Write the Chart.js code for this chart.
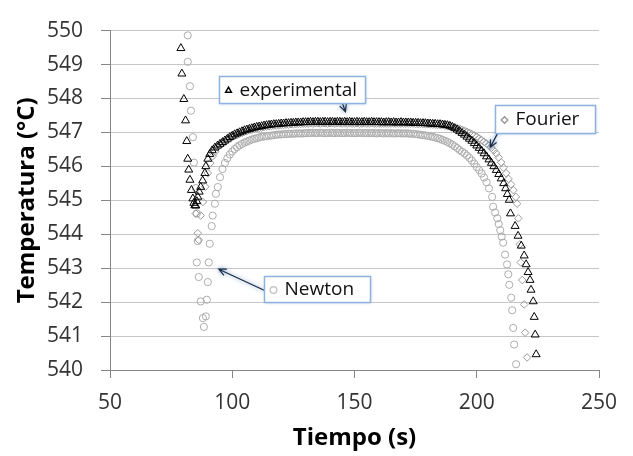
<!DOCTYPE html>
<html>
<head>
<meta charset="utf-8">
<script src="https://cdn.jsdelivr.net/npm/chart.js@4"></script>
<style>
  body { margin: 0; background: #fff; }
  #wrap { width: 633px; height: 456px; }
</style>
</head>
<body>
<div id="wrap"><canvas id="temp"></canvas></div>
<script>
// values
const xTickValues = [50, 100, 150, 200, 250];
const yTickValues = [540, 541, 542, 543, 544, 545, 546, 547, 548, 549, 550];

const expTime = [79.0, 79.4, 80.2, 80.9, 81.4, 81.8, 82.2, 82.7, 83.3, 83.9, 84.3, 84.7, 85.1, 85.5, 85.9, 86.5, 87.1, 87.9, 88.8, 89.2, 90.0, 90.8, 91.8, 92.9,
  94, 95, 96, 97, 98, 99, 100, 101, 102, 103, 104, 105, 106, 107, 108, 109, 110, 111, 112, 113, 114, 115, 116, 117, 118, 119, 120, 121, 122, 123, 124, 125, 126, 127, 128, 129, 130,
  131, 132, 133, 134, 135, 136, 137, 138, 139, 140, 141, 142, 143, 144, 145, 146, 147, 148, 149, 150, 151, 152, 153, 154, 155, 156, 157, 158, 159, 160, 161, 162, 163, 164, 165, 166, 167, 168, 169, 170,
  171, 172, 173, 174, 175, 176, 177, 178, 179, 180, 181, 182, 183, 184, 185, 186, 187, 188, 189, 190, 191, 192, 193, 194, 195, 196, 197, 198, 199, 200, 201, 202, 203, 204, 205, 206, 207, 208, 209, 210, 211,
  211.8, 212.5, 213.3, 213.8, 215.7, 216.9, 218.2, 219.4, 220.2, 221.0, 221.8, 222.2, 223.1, 223.5, 223.9, 224.3];
const expTemp = [549.48, 548.73, 547.98, 547.35, 546.74, 546.22, 545.90, 545.60, 545.30, 545.05, 544.92, 544.85, 544.84, 544.97, 545.10, 545.25, 545.39, 545.58, 545.80, 546.00, 546.22, 546.36, 546.47, 546.55,
  546.61, 546.66, 546.71, 546.76, 546.81, 546.86, 546.90, 546.94, 546.97, 547.00, 547.03, 547.06, 547.08, 547.10, 547.12, 547.14, 547.16, 547.17, 547.18, 547.20, 547.21, 547.22, 547.23, 547.24, 547.24, 547.25, 547.26, 547.26, 547.27, 547.27, 547.28, 547.28, 547.29, 547.29, 547.29, 547.30, 547.30,
  547.30, 547.31, 547.30, 547.31, 547.31, 547.30, 547.31, 547.31, 547.30, 547.31, 547.31, 547.30, 547.31, 547.31, 547.30, 547.31, 547.30, 547.31, 547.30, 547.30, 547.31, 547.30, 547.30, 547.31, 547.30, 547.30, 547.31, 547.30, 547.30, 547.30, 547.30, 547.29, 547.30, 547.30, 547.29, 547.30, 547.29, 547.29, 547.30, 547.29,
  547.29, 547.29, 547.29, 547.28, 547.28, 547.28, 547.27, 547.27, 547.27, 547.26, 547.26, 547.25, 547.25, 547.24, 547.24, 547.23, 547.22, 547.21, 547.19, 547.16, 547.12, 547.08, 547.03, 546.98, 546.93, 546.87, 546.81, 546.75, 546.68, 546.61, 546.54, 546.46, 546.38, 546.29, 546.20, 546.10, 546.00, 545.89, 545.77, 545.64, 545.50,
  545.35, 545.18, 545.01, 544.61, 544.24, 543.95, 543.66, 543.37, 543.11, 542.88, 542.65, 542.36, 542.02, 541.56, 541.04, 540.46];

const newTime = [81.8, 81.8, 82.7, 83.1, 83.9, 84.3, 85.1, 85.5, 85.9, 85.5, 86.3, 87.1, 88.0, 88.4, 89.2, 89.6, 90.0, 90.4, 90.8, 91.6, 92.0, 92.9, 93.3, 94.1,
  95, 96, 97, 98, 99, 100, 101, 102, 103, 104, 105, 106, 107, 108, 109, 110, 111, 112, 113, 114, 115, 116, 117, 118, 119, 120, 121, 122, 123, 124, 125, 126, 127, 128, 129, 130,
  131, 132, 133, 134, 135, 136, 137, 138, 139, 140, 141, 142, 143, 144, 145, 146, 147, 148, 149, 150, 151, 152, 153, 154, 155, 156, 157, 158, 159, 160, 161, 162, 163, 164, 165, 166, 167, 168, 169, 170,
  171, 172, 173, 174, 175, 176, 177, 178, 179, 180, 181, 182, 183, 184, 185, 186, 187, 188, 189, 190, 191, 192, 193, 194, 195, 196, 197, 198, 199, 200, 201, 202, 203, 204, 205,
  206.3, 206.7, 207.5, 208.4, 209.0, 209.6, 210.2, 210.8, 211.6, 212.4, 212.9, 213.3, 214.1, 214.5, 214.9, 215.3, 216.1];
const newTemp = [549.86, 549.08, 548.36, 547.64, 546.86, 546.11, 545.36, 544.61, 543.80, 543.17, 542.74, 542.02, 541.53, 541.27, 541.58, 542.07, 542.59, 543.17, 543.72, 544.24, 544.55, 544.90, 545.19, 545.39,
  545.68, 545.92, 546.10, 546.24, 546.35, 546.44, 546.51, 546.57, 546.62, 546.66, 546.70, 546.73, 546.76, 546.79, 546.81, 546.83, 546.85, 546.87, 546.88, 546.89, 546.90, 546.91, 546.92, 546.93, 546.94, 546.94, 546.95, 546.95, 546.96, 546.96, 546.96, 546.97, 546.97, 546.97, 546.97, 546.98,
  546.98, 546.98, 546.99, 546.98, 546.98, 546.99, 546.98, 546.98, 546.98, 546.99, 546.98, 546.98, 546.99, 546.98, 546.98, 546.98, 546.99, 546.98, 546.98, 546.98, 546.98, 546.99, 546.98, 546.98, 546.98, 546.98, 546.98, 546.98, 546.97, 546.98, 546.98, 546.97, 546.98, 546.97, 546.98, 546.97, 546.97, 546.98, 546.97, 546.97,
  546.97, 546.97, 546.96, 546.96, 546.95, 546.94, 546.93, 546.92, 546.91, 546.90, 546.88, 546.87, 546.85, 546.83, 546.81, 546.78, 546.75, 546.72, 546.68, 546.64, 546.59, 546.54, 546.48, 546.43, 546.38, 546.32, 546.25, 546.17, 546.08, 545.98, 545.89, 545.79, 545.67, 545.53, 545.35,
  545.10, 544.81, 544.64, 544.47, 544.30, 544.12, 543.93, 543.75, 543.40, 543.11, 542.82, 542.51, 542.13, 541.76, 541.24, 540.75, 540.17];

const fouTime = [86.3, 85.9, 85.1, 87.1, 88, 89, 90, 91, 92, 93,
  94, 95, 96, 97, 98, 99, 100, 101, 102, 103, 104, 105, 106, 107, 108, 109, 110, 111, 112, 113, 114, 115, 116, 117, 118, 119, 120, 121, 122, 123, 124, 125, 126, 127, 128, 129, 130,
  131, 132, 133, 134, 135, 136, 137, 138, 139, 140, 141, 142, 143, 144, 145, 146, 147, 148, 149, 150, 151, 152, 153, 154, 155, 156, 157, 158, 159, 160, 161, 162, 163, 164, 165, 166, 167, 168, 169, 170,
  171, 172, 173, 174, 175, 176, 177, 178, 179, 180, 181, 182, 183, 184, 185,
  186, 187, 188, 189, 190, 191, 192, 193, 194, 195, 196, 197, 198, 199, 200, 201, 202, 203, 204, 205, 206, 207, 208, 209, 210, 211, 212, 213, 214, 215,
  216, 216.5, 217.0, 217.6, 218.0, 218.6, 219.4, 219.8, 220.6];
const fouTemp = [543.83, 544.03, 544.61, 544.55, 544.95, 545.40, 545.80, 546.10, 546.30, 546.43,
  546.56, 546.62, 546.67, 546.72, 546.77, 546.82, 546.86, 546.90, 546.93, 546.96, 546.99, 547.02, 547.04, 547.06, 547.08, 547.10, 547.12, 547.13, 547.14, 547.16, 547.17, 547.18, 547.19, 547.20, 547.20, 547.21, 547.22, 547.22, 547.23, 547.23, 547.24, 547.24, 547.25, 547.25, 547.25, 547.26, 547.26,
  547.26, 547.27, 547.26, 547.27, 547.27, 547.26, 547.27, 547.27, 547.26, 547.27, 547.27, 547.26, 547.27, 547.27, 547.26, 547.27, 547.26, 547.27, 547.26, 547.26, 547.27, 547.26, 547.26, 547.27, 547.26, 547.26, 547.27, 547.26, 547.26, 547.26, 547.26, 547.26, 547.26, 547.26, 547.26, 547.26, 547.26, 547.26, 547.26, 547.26,
  547.26, 547.26, 547.26, 547.26, 547.25, 547.25, 547.25, 547.25, 547.24, 547.24, 547.24, 547.23, 547.23, 547.22, 547.22,
  547.21, 547.20, 547.19, 547.18, 547.17, 547.15, 547.13, 547.11, 547.08, 547.05, 547.02, 546.99, 546.95, 546.91, 546.87, 546.82, 546.77, 546.72, 546.67, 546.61, 546.55, 546.47, 546.38, 546.26, 546.12, 545.96, 545.80, 545.63, 545.47, 545.30,
  545.10, 544.90, 544.47, 543.70, 543.17, 542.65, 541.93, 541.10, 540.37];

function toPoints(xs, ys) {
    return xs.map((t, i) => ({ x: t, y: ys[i] }));
}

// text boxes with arrows, anchored in data units
const callouts = [
    { text: 'experimental', mark: 'triangle', markColor: '#000', box: [94.5, 548.67], w: 146, h: 27, from: [144.7, 547.93], to: [146.3, 547.61] },
    { text: 'Fourier', mark: 'rectRot', markColor: '#999', box: [207.6, 547.81], w: 100, h: 28, from: [209.6, 547.12], to: [205.5, 546.56] },
    { text: 'Newton', mark: 'circle', markColor: '#c8c8c8', box: [112.9, 542.77], w: 106, h: 26, from: [113.7, 542.33], to: [94.5, 542.97] }
];

const calloutPlugin = {
    id: 'callouts',
    afterDatasetsDraw: (chart) => {
        const ctx = chart.ctx;
        const xs = chart.scales.x, ys = chart.scales.y;
        callouts.forEach(c => {
            const bx = Math.round(xs.getPixelForValue(c.box[0])) + 0.5;
            const by = Math.round(ys.getPixelForValue(c.box[1])) + 0.5;
            const x1 = xs.getPixelForValue(c.from[0]), y1 = ys.getPixelForValue(c.from[1]);
            const x2 = xs.getPixelForValue(c.to[0]), y2 = ys.getPixelForValue(c.to[1]);
            const ang = Math.atan2(y2 - y1, x2 - x1);

            // arrow with soft blue glow
            ctx.save();
            ctx.shadowColor = 'rgba(79,129,189,0.9)';
            ctx.shadowBlur = 4;
            ctx.strokeStyle = '#1d2b45';
            ctx.lineWidth = 1.2;
            ctx.beginPath();
            ctx.moveTo(x1, y1);
            ctx.lineTo(x2, y2);
            ctx.moveTo(x2 - 8 * Math.cos(ang - 0.45), y2 - 8 * Math.sin(ang - 0.45));
            ctx.lineTo(x2, y2);
            ctx.lineTo(x2 - 8 * Math.cos(ang + 0.45), y2 - 8 * Math.sin(ang + 0.45));
            ctx.stroke();
            ctx.restore();

            // box
            ctx.save();
            ctx.shadowColor = 'rgba(79,129,189,0.6)';
            ctx.shadowBlur = 3;
            ctx.fillStyle = '#fff';
            ctx.fillRect(bx, by, c.w, c.h);
            ctx.restore();
            ctx.save();
            ctx.strokeStyle = '#8fb3e0';
            ctx.lineWidth = 1.5;
            ctx.strokeRect(bx, by, c.w, c.h);

            ctx.strokeStyle = c.markColor;
            ctx.fillStyle = 'rgba(0,0,0,0)';
            Chart.helpers.drawPoint(ctx, { pointStyle: c.mark, radius: 3.3, borderWidth: 1, rotation: 0 }, bx + 9, by + c.h / 2 + 0.5);

            ctx.fillStyle = '#111';
            ctx.font = '19px "Open Sans"';
            ctx.textBaseline = 'middle';
            ctx.fillText(c.text, bx + 20, by + c.h / 2 + 0.5);
            ctx.restore();
        });
    }
};

const data = {
    datasets: [{
        label: 'experimental',
        data: toPoints(expTime, expTemp),
        pointStyle: 'triangle',
        pointRadius: 4.6,
        borderWidth: 1,
        borderColor: '#000',
        backgroundColor: 'rgba(0,0,0,0)'
    }, {
        label: 'Fourier',
        data: toPoints(fouTime, fouTemp),
        pointStyle: 'rectRot',
        pointRadius: 3.8,
        borderWidth: 1,
        borderColor: '#9a9a9a',
        backgroundColor: 'rgba(0,0,0,0)'
    }, {
        label: 'Newton',
        data: toPoints(newTime, newTemp),
        pointStyle: 'circle',
        pointRadius: 3.6,
        borderWidth: 1,
        borderColor: '#acacac',
        backgroundColor: 'rgba(0,0,0,0)'
    }]
};

const tickFont = { family: '"Open Sans"', size: 21 };
const titleFont = { family: '"Open Sans"', size: 24, weight: 'bold' };

const config = {
    type: 'scatter',
    data: data,
    plugins: [calloutPlugin],
    options: {
        responsive: true,
        maintainAspectRatio: false,
        animation: false,
        layout: { padding: { top: 23, right: 34, left: 0, bottom: 0 } },
        plugins: { legend: { display: false }, tooltip: { enabled: false } },
        scales: {
            x: {
                type: 'linear',
                min: 50,
                max: 250,
                afterBuildTicks: (s) => { s.ticks = xTickValues.map(v => ({ value: v })); },
                ticks: { font: tickFont, color: '#333', padding: 12, maxRotation: 0 },
                grid: { drawOnChartArea: false, tickLength: 8, tickColor: '#868686' },
                border: { color: '#868686' },
                title: { display: true, text: 'Tiempo (s)', font: titleFont, color: '#000', padding: { top: 0, bottom: 3 } },
                afterFit: (s) => { s.height = 86; }
            },
            y: {
                type: 'linear',
                min: 540,
                max: 550,
                afterBuildTicks: (s) => { s.ticks = yTickValues.map(v => ({ value: v })); },
                ticks: { font: tickFont, color: '#333', padding: 18 },
                grid: { color: '#c6c6c6', tickLength: 9, tickColor: '#868686' },
                border: { color: '#868686' },
                title: { display: true, text: 'Temperatura (°C)', font: titleFont, color: '#000', padding: { top: 13, bottom: 0 } },
                afterFit: (s) => { s.width = 110; }
            }
        }
    }
};

new Chart(document.getElementById('temp'), config);
</script>
</body>
</html>
